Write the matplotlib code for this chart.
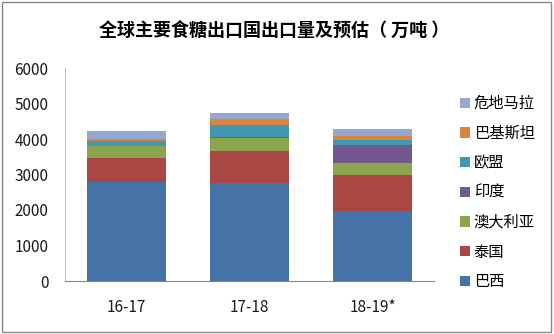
import matplotlib
matplotlib.use('Agg')
import matplotlib.pyplot as plt
from matplotlib.patches import Rectangle

plt.rcParams['font.family'] = ['Noto Sans CJK SC', 'DejaVu Sans']

years = ['16-17', '17-18', '18-19*']
brazil = [2800, 2750, 1970]
thailand = [660, 920, 1010]
australia = [345, 370, 355]
india = [10, 30, 485]
eu = [140, 330, 140]
pakistan = [40, 175, 120]
guatemala = [225, 170, 196]

names = ['巴西', '泰国', '澳大利亚', '印度', '欧盟', '巴基斯坦', '危地马拉']
series = [brazil, thailand, australia, india, eu, pakistan, guatemala]
colors = ['#4572A7', '#AA4643', '#89A54E', '#71588F', '#4198AF', '#DB843D', '#93A9CF']

fig = plt.figure(figsize=(5.54, 3.34), dpi=100)
ax = fig.add_axes([65 / 554, 1 - 281 / 334, 369 / 554, 213 / 334])

x = range(len(years))
bottom = [0] * len(years)
handles = []
for name, vals, c in zip(names, series, colors):
    h = ax.bar(x, vals, 0.64, bottom=bottom, color=c, label=name)
    handles.append(h)
    bottom = [b + v for b, v in zip(bottom, vals)]

ax.set_xlim(-0.5, 2.5)
ax.set_ylim(0, 6000)
ax.set_yticks(range(0, 6001, 1000))
ax.set_xticks(list(x))
ax.set_xticklabels(years)
ax.tick_params(length=0, labelsize=11, colors='#1a1a1a')
ax.tick_params(axis='y', pad=12)
ax.tick_params(axis='x', pad=13)
for s in ['top', 'right']:
    ax.spines[s].set_visible(False)
ax.spines['left'].set_color('#bfbfbf')
ax.spines['bottom'].set_color('#888888')

ax.legend(handles[::-1], names[::-1], loc='upper left', bbox_to_anchor=(454 / 554, 1 - 89 / 334),
          bbox_transform=fig.transFigure, frameon=False, fontsize=11,
          handlelength=0.65, handleheight=0.65, handletextpad=0.25, labelspacing=0.83,
          borderaxespad=0)

fig.text(274 / 554, 1 - 30 / 334, '全球主要食糖出口国出口量及预估（ 万吨 ）',
         ha='center', va='center', fontsize=13, fontweight='bold')

fig.patches.append(Rectangle((2 / 554, 2 / 334), 549 / 554, 330 / 334, transform=fig.transFigure,
                             fill=False, edgecolor='#888888', linewidth=1))

fig.savefig('out.png', dpi=100)
